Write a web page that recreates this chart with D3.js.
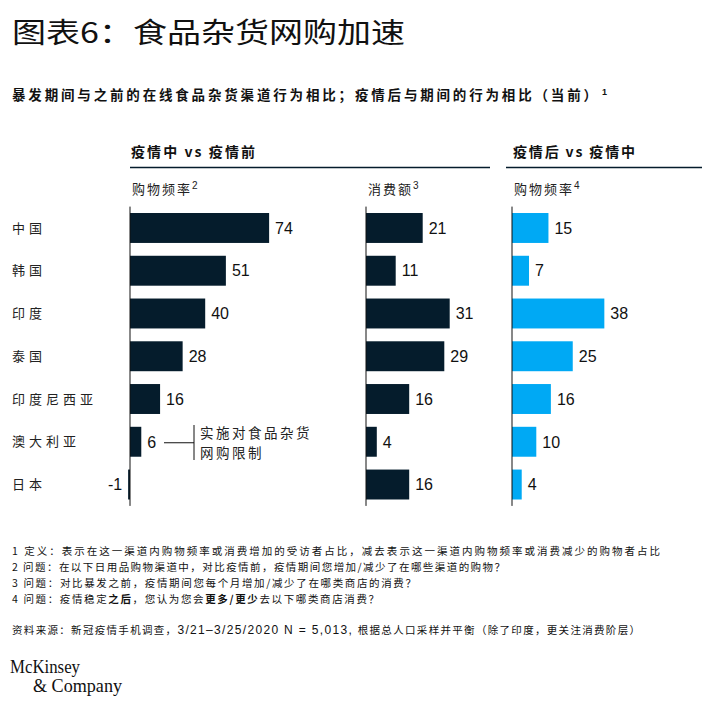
<!DOCTYPE html>
<html><head><meta charset="utf-8">
<script src="https://cdn.jsdelivr.net/npm/d3@7"></script>
<style>
body{margin:0;background:#fff;}
text{font-family:"Noto Sans CJK SC","Noto Sans",sans-serif;}
.num{font-family:"Liberation Sans",Arial,sans-serif;}
.logo{font-family:"Liberation Serif","DejaVu Serif",serif;}
</style></head>
<body>
<svg id="chart" width="711" height="715"></svg>
<script>
const countries = ["中国","韩国","印度","泰国","印度尼西亚","澳大利亚","日本"];
const freqDuring = [74, 51, 40, 28, 16, 6, -1];
const spendDuring = [21, 11, 31, 29, 16, 4, 16];
const freqAfter = [15, 7, 38, 25, 16, 10, 4];

const panels = [
  {key:"p1", values: freqDuring, label:"购物频率", sup:"2", x0:130, pxPer100:188, color:"#051C2C"},
  {key:"p2", values: spendDuring, label:"消费额", sup:"3", x0:366, pxPer100:270, color:"#051C2C"},
  {key:"p3", values: freqAfter, label:"购物频率", sup:"4", x0:512, pxPer100:243, color:"#00A9F4"}
];
const groupHeaders = [
  {text:"疫情中 vs 疫情前", x:131, len:124, lineX1:130, lineX2:490},
  {text:"疫情后 vs 疫情中", x:513, len:122, lineX1:506, lineX2:702}
];
const footnotes = [
  {parts:[["1 定义：表示在这一渠道内购物频率或消费增加的受访者占比，减去表示这一渠道内购物频率或消费减少的购物者占比",false]], len:648},
  {parts:[["2 问题：在以下日用品购物渠道中，对比疫情前，疫情期间您增加/减少了在哪些渠道的购物？",false]], len:493},
  {parts:[["3 问题：对比暴发之前，疫情期间您每个月增加/减少了在哪类商店的消费？",false]], len:404},
  {parts:[["4 问题：疫情稳定",false],["之后",true],["，您认为您会",false],["更多/更少",true],["去以下哪类商店消费？",false]], len:367}
];
const sourceParts = [["资料来源：新冠疫情手机调查，",false],["3/21–3/25/2020 N = 5,013, ",true],["根据总人口采样并平衡（除了印度，更关注消费阶层）",false]];

const svg = d3.select("#chart");

// Title
svg.append("text").attr("x",12).attr("y",43).attr("font-size",28)
  .attr("textLength",393).attr("lengthAdjust","spacingAndGlyphs")
  .attr("fill","#111").text("图表6：食品杂货网购加速");

// Subtitle
const st = svg.append("text").attr("x",12).attr("y",100).attr("font-size",13.5).attr("font-weight","bold").attr("fill","#111");
st.append("tspan").attr("textLength",585).attr("lengthAdjust","spacing")
  .text("暴发期间与之前的在线食品杂货渠道行为相比；疫情后与期间的行为相比（当前）");
st.append("tspan").attr("x",602).attr("dy",-5).attr("font-size",9).attr("class","num").text("1");

// Group headers
groupHeaders.forEach(g=>{
  svg.append("text").attr("x",g.x).attr("y",157).attr("font-size",14).attr("font-weight","bold")
    .attr("fill","#111").attr("textLength",g.len).attr("lengthAdjust","spacing").text(g.text);
  svg.append("line").attr("x1",g.lineX1).attr("x2",g.lineX2).attr("y1",167.5).attr("y2",167.5)
    .attr("stroke","#051C2C").attr("stroke-width",1.3);
});

// Row scale
const y = d3.scaleBand().domain(countries).range([206.6, 505.9]).paddingInner(0.3).paddingOuter(0.15);

// Country labels
svg.append("g").selectAll("text").data(countries).join("text")
  .attr("x",12).attr("y",d=>y(d)+y.bandwidth()/2).attr("dy","0.35em")
  .attr("font-size",13).attr("letter-spacing",4).attr("fill","#222").text(d=>d);

panels.forEach(p=>{
  const x = d3.scaleLinear().domain([0,100]).range([p.x0, p.x0+p.pxPer100]);
  const g = svg.append("g");
  const t = g.append("text").attr("x",p.x0+2).attr("y",194).attr("font-size",13)
    .attr("letter-spacing",2).attr("fill","#222");
  t.append("tspan").text(p.label);
  t.append("tspan").attr("class","num").attr("font-size",10).attr("letter-spacing",0).attr("dy",-5).text(p.sup);
  const data = countries.map((c,i)=>({c, v:p.values[i]}));
  g.selectAll("rect").data(data).join("rect")
    .attr("x",d=>x(Math.min(0,d.v))).attr("width",d=>Math.abs(x(d.v)-x(0)))
    .attr("y",d=>y(d.c)).attr("height",y.bandwidth()).attr("fill",p.color);
  g.append("line").attr("x1",x(0)).attr("x2",x(0)).attr("y1",206.6).attr("y2",505.9)
    .attr("stroke","#111").attr("stroke-width",1);
  g.selectAll("text.val").data(data).join("text").attr("class","val num")
    .attr("x",d=>d.v>=0 ? x(d.v)+6 : x(d.v)-6)
    .attr("text-anchor",d=>d.v>=0?"start":"end")
    .attr("y",d=>y(d.c)+y.bandwidth()/2).attr("dy","0.36em")
    .attr("font-size",16).attr("fill","#111").text(d=>d.v);
});

// Annotation for Australia
const ay = y("澳大利亚")+y.bandwidth()/2 + 1;
svg.append("line").attr("x1",164).attr("x2",194).attr("y1",ay).attr("y2",ay).attr("stroke","#111");
svg.append("line").attr("x1",194).attr("x2",194).attr("y1",425).attr("y2",460).attr("stroke","#111");
svg.append("text").attr("x",200).attr("y",438).attr("font-size",13.5).attr("letter-spacing",2.5).attr("fill","#222").text("实施对食品杂货");
svg.append("text").attr("x",200).attr("y",458).attr("font-size",13.5).attr("letter-spacing",2.5).attr("fill","#222").text("网购限制");

// Footnotes
footnotes.forEach((f,i)=>{
  const t = svg.append("text").attr("x",12).attr("y",555+i*16).attr("font-size",10.5).attr("fill","#111")
    .attr("textLength",f.len).attr("lengthAdjust","spacing");
  f.parts.forEach(([s,b])=>t.append("tspan").attr("font-weight",b?"bold":"normal").text(s));
});
const src = svg.append("text").attr("x",12).attr("y",634).attr("font-size",10.5).attr("fill","#111")
  .attr("textLength",628).attr("lengthAdjust","spacing");
sourceParts.forEach(([s,isNum])=>{
  const ts = src.append("tspan").text(s);
  if(isNum) ts.attr("class","num").attr("font-size",12);
});

// Logo
svg.append("text").attr("class","logo").attr("x",10).attr("y",673)
  .attr("font-size",18).attr("fill","#111").attr("textLength",70).attr("lengthAdjust","spacingAndGlyphs").text("McKinsey");
svg.append("text").attr("class","logo").attr("x",33).attr("y",692)
  .attr("font-size",18).attr("fill","#111").attr("textLength",89).attr("lengthAdjust","spacingAndGlyphs").text("& Company");
</script>
</body></html>
